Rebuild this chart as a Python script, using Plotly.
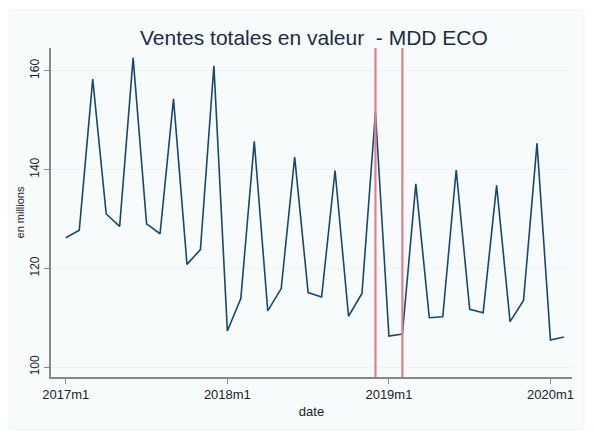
import plotly.graph_objects as go

months = [f"{y}m{m}" for y in (2017, 2018, 2019) for m in range(1, 13)] + ["2020m1", "2020m2"]
ventes = [126.2, 127.7, 158.3, 131.0, 128.5, 162.6, 129.0, 127.0, 154.3, 120.8, 123.8, 161.0,
          107.3, 113.9, 145.7, 111.4, 115.9, 142.5, 115.1, 114.2, 139.8, 110.3, 114.9, 151.6,
          106.3, 106.7, 137.1, 110.0, 110.2, 139.9, 111.7, 111.0, 136.8, 109.2, 113.5, 145.3,
          105.5, 106.1]
tick_labels = ["2017m1", "2018m1", "2019m1", "2020m1"]
y_ticks = [100, 120, 140, 160]
event_months = ["2018m12", "2019m2"]

fig = go.Figure()
fig.add_trace(go.Scatter(x=months, y=ventes, mode="lines",
                         line=dict(color="#1a476f", width=1.6), showlegend=False))

# outer graph region (very light)
fig.add_shape(type="rect", xref="paper", yref="paper", x0=-0.083, x1=1.023, y0=-0.161, y1=1.116,
              fillcolor="#f8fbfc", line=dict(color="#eef4f6", width=1), layer="below")

for m in event_months:
    idx = months.index(m)
    fig.add_shape(type="line", xref="x", yref="paper", x0=idx, x1=idx, y0=0, y1=1,
                  line=dict(color="#e0808a", width=2.2))

fig.add_annotation(text="Ventes totales en valeur  - MDD ECO", xref="paper", yref="paper",
                   x=0.505, y=1.033, xanchor="center", yanchor="middle", showarrow=False,
                   font=dict(size=21, color="#1e2b45"))

fig.update_layout(
    width=580, height=422,
    margin=dict(l=43, r=16, t=40, b=53),
    paper_bgcolor="white", plot_bgcolor="white",
    font=dict(family="Arial, Liberation Sans, sans-serif", color="#222222"),
)
fig.update_xaxes(type="category", range=[-1.1, 37.6], tickmode="array", tickvals=tick_labels,
                 ticktext=tick_labels, ticks="outside", ticklen=5, tickcolor="#888888",
                 showline=True, linecolor="#888888", linewidth=1.5, showgrid=False,
                 automargin=False,
                 tickfont=dict(size=13, color="#222222"),
                 title=dict(text="date", font=dict(size=13, color="#222222"), standoff=6))
fig.update_yaxes(range=[98.0, 164.6], tickmode="array", tickvals=y_ticks, ticks="outside",
                 ticklen=5, tickcolor="#888888", tickangle=-90,
                 showline=True, linecolor="#888888", linewidth=1.5,
                 showgrid=True, gridcolor="#eaf3f7", gridwidth=1, zeroline=False,
                 automargin=False,
                 tickfont=dict(size=12, color="#222222"),
                 title=dict(text="en millions", font=dict(size=11, color="#222222"), standoff=2))

fig.write_html("out.html")
